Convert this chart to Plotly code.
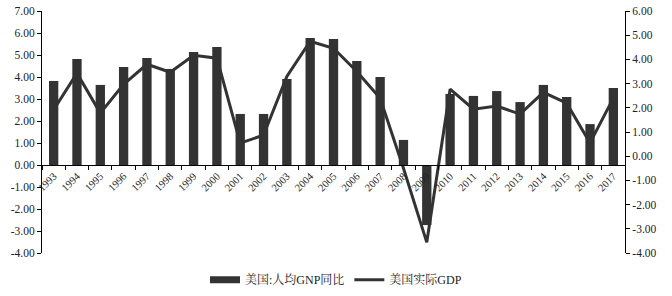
import plotly.graph_objects as go

years = [str(y) for y in range(1993, 2018)]
gnp_per_capita = [3.82, 4.82, 3.64, 4.45, 4.86, 4.36, 5.14, 5.36, 2.32, 2.32, 3.91, 5.77, 5.73,
                  4.73, 4.00, 1.14, -2.73, 3.23, 3.14, 3.36, 2.86, 3.64, 3.09, 1.86, 3.50]
real_gdp = [1.92, 3.43, 1.78, 2.97, 3.80, 3.47, 4.17, 4.05, 0.54, 0.87, 3.30, 4.75, 4.46,
            3.50, 2.39, -0.50, -3.56, 2.77, 1.94, 2.07, 1.74, 2.64, 2.19, 0.55, 2.40]
left_ticks = list(range(-4, 8))
right_ticks = list(range(-4, 7))
left_labels = ["%.2f" % v for v in left_ticks]
right_labels = ["%.2f" % v for v in right_ticks]

dark = "#333333"
font = "Liberation Serif, Times New Roman, Noto Serif CJK SC, Noto Sans CJK SC, serif"

fig = go.Figure()
fig.add_trace(go.Bar(x=years, y=gnp_per_capita, name="美国:人均GNP同比",
                     marker=dict(color=dark, line=dict(width=0)), yaxis="y",
                     showlegend=False))
# legend proxy for the bar series (wide rectangle swatch)
fig.add_trace(go.Scatter(x=[None], y=[None], name="美国:人均GNP同比", mode="lines",
                         line=dict(color=dark, width=7), yaxis="y"))
fig.add_trace(go.Scatter(x=years, y=real_gdp, name="美国实际GDP", mode="lines",
                         line=dict(color=dark, width=3), yaxis="y2"))

fig.update_layout(
    width=672, height=296,
    margin=dict(l=42, r=47, t=11, b=43, autoexpand=False),
    paper_bgcolor="white", plot_bgcolor="white",
    font=dict(family=font, size=11, color="#222222"),
    bargap=0.6,
    showlegend=True,
    legend=dict(orientation="h", x=0.5, xanchor="center", xref="container",
                y=0.055, yanchor="middle", yref="container",
                font=dict(size=12), traceorder="normal", itemwidth=30),
    xaxis=dict(type="category", anchor="free", position=4/11, automargin=False,
               showline=True, linecolor="black", linewidth=1,
               ticks="outside", ticklen=4, tickcolor="black", tickson="boundaries",
               tickangle=-45, showgrid=False, zeroline=False,
               tickfont=dict(size=10.5)),
    yaxis=dict(range=[-4, 7], tickvals=left_ticks, ticktext=left_labels,
               showline=True, linecolor="black",
               linewidth=1, ticks="outside", ticklen=4, tickcolor="black",
               showgrid=False, zeroline=False, automargin=False, tickfont=dict(size=11.5)),
    yaxis2=dict(range=[-4, 6], tickvals=right_ticks, ticktext=right_labels,
                overlaying="y", side="right",
                showline=True, linecolor="black", linewidth=1, ticks="outside", ticklen=4,
                tickcolor="black", showgrid=False, zeroline=False, automargin=False,
                tickfont=dict(size=11.5)),
)

fig.write_html("out.html")
